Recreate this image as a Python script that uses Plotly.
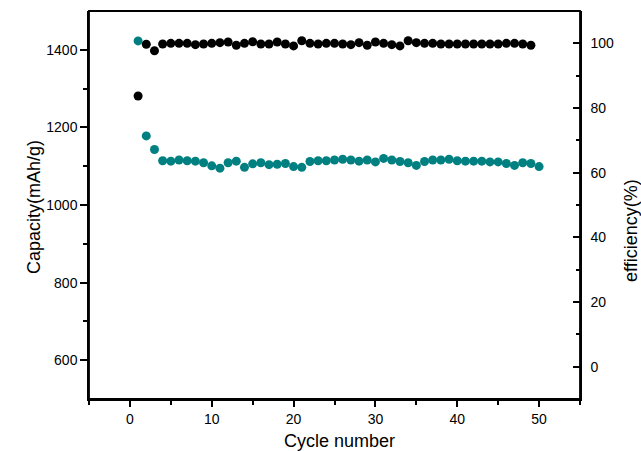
import plotly.graph_objects as go

# Specific capacity (mAh/g) per cycle, cycles 1-50
capacity_cycles = list(range(1, 51))
capacity = [
    1423, 1178, 1143, 1114, 1113, 1116, 1114, 1113, 1109, 1101,
    1095, 1109, 1113, 1097, 1106, 1109, 1104, 1105, 1107, 1099,
    1097, 1112, 1114, 1114, 1116, 1118, 1116, 1113, 1116, 1111,
    1120, 1116, 1112, 1109, 1102, 1112, 1116, 1116, 1118, 1114,
    1113, 1113, 1113, 1111, 1111, 1107, 1102, 1109, 1107, 1099,
]

# Coulombic efficiency (%) per cycle, cycles 1-49
efficiency_cycles = list(range(1, 50))
efficiency = [
    83.7, 99.7, 97.7, 99.8, 100.0, 100.0, 100.0, 99.6, 99.8, 100.0,
    100.2, 100.4, 99.4, 100.0, 100.5, 99.8, 99.8, 100.4, 99.8, 99.2,
    100.8, 100.0, 99.8, 100.0, 100.0, 99.8, 99.6, 100.2, 99.4, 100.4,
    100.0, 99.6, 99.2, 100.8, 100.2, 100.0, 100.0, 99.8, 99.8, 99.8,
    99.8, 99.8, 99.8, 99.8, 99.8, 100.0, 100.0, 99.8, 99.4,
]

x_ticks = [0, 10, 20, 30, 40, 50]
cap_ticks = [600, 800, 1000, 1200, 1400]
eff_ticks = [0, 20, 40, 60, 80, 100]

TEAL = "#008080"
FONT = "Liberation Sans, Arial, sans-serif"
tick_font = dict(family=FONT, size=14, color="#000")
title_font = dict(family=FONT, size=18, color="#000")

fig = go.Figure()
fig.add_trace(go.Scatter(
    x=capacity_cycles, y=capacity, mode="markers",
    marker=dict(color=TEAL, size=9, line=dict(width=0)),
    xaxis="x", yaxis="y", showlegend=False,
))
fig.add_trace(go.Scatter(
    x=efficiency_cycles, y=efficiency, mode="markers",
    marker=dict(color="#000", size=9, line=dict(width=0)),
    xaxis="x", yaxis="y2", showlegend=False,
))

axis_common = dict(showline=True, linecolor="#000", linewidth=1.5,
                   showgrid=False, zeroline=False, tickcolor="#000",
                   tickwidth=1.5, tickfont=tick_font)

fig.update_layout(
    width=641, height=451,
    margin=dict(l=89, r=61, t=11, b=52),
    paper_bgcolor="white", plot_bgcolor="white",
    xaxis=dict(
        **axis_common, range=[-5, 55], tickmode="array", tickvals=x_ticks,
        ticks="outside", ticklen=6,
        minor=dict(tickmode="array", tickvals=[-5, 5, 15, 25, 35, 45, 55],
                   ticks="outside", ticklen=4, tickcolor="#000", tickwidth=1.5),
    ),
    xaxis2=dict(
        **axis_common, range=[-5, 55], overlaying="x", side="top",
        tickmode="array", tickvals=[7, 19, 31, 43], ticks="inside", ticklen=5,
        showticklabels=False,
        minor=dict(tickmode="array", tickvals=[1, 13, 25, 37, 49],
                   ticks="inside", ticklen=3, tickcolor="#000", tickwidth=1.5),
    ),
    yaxis=dict(
        **axis_common, range=[500, 1500], tickmode="array", tickvals=cap_ticks,
        ticks="outside", ticklen=7,
        minor=dict(tickmode="array", tickvals=[700, 900, 1100, 1300],
                   ticks="outside", ticklen=4, tickcolor="#000", tickwidth=1.5),
    ),
    yaxis2=dict(
        **axis_common, range=[-10, 110], overlaying="y", side="right",
        tickmode="array", tickvals=eff_ticks, ticks="inside", ticklen=7,
        ticklabelstandoff=6,
        minor=dict(tickmode="array", tickvals=[10, 30, 50, 70, 90],
                   ticks="inside", ticklen=4, tickcolor="#000", tickwidth=1.5),
    ),
    # plot frame
    shapes=[dict(type="rect", xref="paper", yref="paper",
                 x0=0, x1=1, y0=0, y1=1, layer="above",
                 line=dict(color="#000", width=1.8))],
    annotations=[
        dict(text="Cycle number", xref="paper", yref="paper",
             x=(339.5 - 89) / 491, y=(399 - 441) / 388,
             xanchor="center", yanchor="middle", showarrow=False,
             font=title_font),
        dict(text="Capacity(mAh/g)", xref="paper", yref="paper",
             x=(34 - 89) / 491, y=(399 - 207) / 388, textangle=-90,
             xanchor="center", yanchor="middle", showarrow=False,
             font=title_font),
        dict(text="efficiency(%)", xref="paper", yref="paper",
             x=(631 - 89) / 491, y=(399 - 231) / 388, textangle=-90,
             xanchor="center", yanchor="middle", showarrow=False,
             font=title_font),
    ],
)

fig.write_html("out.html")
